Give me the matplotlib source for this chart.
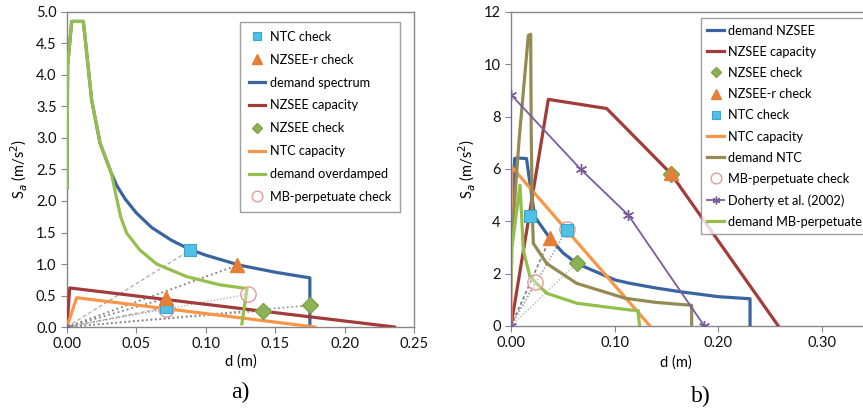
import matplotlib
matplotlib.use("Agg")
import matplotlib.pyplot as plt

plt.rcParams['font.family'] = ['Lato', 'DejaVu Sans']

# ---------------- panel a) ----------------
d_dem_a = [0, 0.0005, 0.0034, 0.0118, 0.0178, 0.0238, 0.032, 0.036, 0.042, 0.05, 0.061, 0.075,
           0.0886, 0.10, 0.1246, 0.15, 0.175, 0.175]
sa_dem_a = [2.2, 4.15, 4.85, 4.85, 3.6, 2.92, 2.44, 2.24, 2.03, 1.81, 1.58, 1.38,
            1.23, 1.14, 0.98, 0.87, 0.78, 0.05]
d_over_a = [0, 0.0005, 0.0034, 0.0118, 0.0178, 0.0238, 0.032, 0.036, 0.0387, 0.043, 0.0526,
            0.0646, 0.0862, 0.11, 0.12, 0.1297, 0.126]
sa_over_a = [2.2, 4.15, 4.85, 4.85, 3.6, 2.92, 2.44, 2.02, 1.75, 1.49, 1.22,
             1.0, 0.80, 0.67, 0.64, 0.61, 0.05]
d_nzcap_a = [0, 0.002, 0.236]
sa_nzcap_a = [0, 0.62, 0.0]
d_ntccap_a = [0, 0.007, 0.1787]
sa_ntccap_a = [0, 0.465, 0.0]
d_ntcchk_a = [0.0886, 0.0711]
sa_ntcchk_a = [1.22, 0.31]
d_nzrchk_a = [0.1227, 0.0711]
sa_nzrchk_a = [0.98, 0.455]
d_nzchk_a = [0.1415, 0.175]
sa_nzchk_a = [0.26, 0.345]
d_mbchk_a = [0.1306, 0.0711]
sa_mbchk_a = [0.52, 0.29]

# ---------------- panel b) ----------------
d_dem_b = [0, 0.0035, 0.006, 0.015, 0.0183, 0.023, 0.0376, 0.05, 0.0633, 0.1003, 0.1148,
           0.14, 0.163, 0.20, 0.2305, 0.2305]
sa_dem_b = [2.6, 6.4, 6.42, 6.4, 5.45, 4.17, 3.35, 2.8, 2.39, 1.76, 1.63,
            1.45, 1.31, 1.12, 1.04, 0]
d_ntc_b = [0, 0.008, 0.0167, 0.019, 0.0195, 0.0205, 0.0215, 0.0344, 0.0633, 0.11,
           0.14, 0.1742, 0.1742]
sa_ntc_b = [2.9, 7.2, 11.1, 11.15, 7.5, 4.5, 3.16, 2.39, 1.63, 1.06,
            0.9, 0.79, 0]
d_mb_b = [0, 0.001, 0.0087, 0.0103, 0.0119, 0.0183, 0.0344, 0.0633, 0.1148, 0.1228, 0.1228, 0.124]
sa_mb_b = [1.3, 3.0, 5.38, 4.17, 2.9, 1.88, 1.25, 0.87, 0.61, 0.59, 0.45, 0]
d_nzcap_b = [0, 0.036, 0.0923, 0.154, 0.2578]
sa_nzcap_b = [0, 8.66, 8.31, 5.83, 0]
d_ntccap_b = [0, 0.0007, 0.134]
sa_ntccap_b = [0, 6.08, 0]
d_doh_b = [0, 0, 0.0672, 0.1131, 0.1864]
sa_doh_b = [0, 8.84, 5.99, 4.24, 0]
d_nzchk_b = [0.0633, 0.154]
sa_nzchk_b = [2.39, 5.8]
d_nzrchk_b = [0.0376, 0.154]
sa_nzrchk_b = [3.35, 5.83]
d_ntcchk_b = [0.0183, 0.0537]
sa_ntcchk_b = [4.2, 3.66]
d_mbchk_b = [0.0231, 0.0537]
sa_mbchk_b = [1.69, 3.7]

BLUE = '#3a64a0'
RED = '#a33b3b'
GREEN = '#93bf4a'
ORANGE = '#f79646'
OLIVE = '#948a54'
PURPLE = '#7a5c9c'
CYAN = '#4fc1e6'
TRI = '#e67e35'
DIAM = '#8db255'
GRID = '#868686'

fig = plt.figure(figsize=(8.63, 4.13), dpi=100)
ax1 = fig.add_axes([0.0776, 0.2082, 0.4021, 0.7628])
ax2 = fig.add_axes([0.5921, 0.2107, 0.4206, 0.7603])


def style(ax):
    for s in ax.spines.values():
        s.set_color(GRID)
        s.set_linewidth(1.0)
    ax.tick_params(direction='out', length=4, color=GRID, labelsize=10.5,
                   labelcolor='#111111', top=False, right=False)
    ax.set_xlabel('d (m)', fontsize=10.5)
    ax.set_ylabel('S$_a$ (m/s$^2$)', fontsize=10.5)


def guides(ax, xs, ys, **kw):
    for x, y in zip(xs, ys):
        ax.plot([0, x], [0, y], zorder=2, **kw)


mk_sq = dict(marker='s', ms=8, mfc=CYAN, mec='#3aa6c8', mew=0.8, ls='none', zorder=6)
mk_tri = dict(marker='^', ms=10, mfc=TRI, mec=TRI, ls='none', zorder=6)
mk_dia = dict(marker='D', ms=8, mfc=DIAM, mec='#7fa347', ls='none', zorder=5)
mk_circ = dict(marker='o', ms=11, mfc=(1, 1, 1, 0.35), mec='#e39a9a', mew=1.0, ls='none', zorder=5)

leg_kw = dict(loc='upper left', bbox_transform=fig.transFigure, fontsize=9.2, frameon=True,
              fancybox=False, edgecolor=GRID, handlelength=1.3, handletextpad=0.35,
              borderaxespad=0, markerscale=0.7)

# ---- a)
guides(ax1, d_ntcchk_a, sa_ntcchk_a, color='#aaaaaa', lw=0.9, ls=(0, (3, 2)))
guides(ax1, d_nzrchk_a, sa_nzrchk_a, color='#7f7f7f', lw=1.3, ls=':')
guides(ax1, d_nzchk_a, sa_nzchk_a, color='#8c8c8c', lw=1.2, ls=':')
guides(ax1, d_mbchk_a, sa_mbchk_a, color='#a6a6a6', lw=0.9, ls=':')

ax1.plot(d_ntcchk_a, sa_ntcchk_a, label='NTC check', **mk_sq)
ax1.plot(d_nzrchk_a, sa_nzrchk_a, label='NZSEE-r check', **mk_tri)
ax1.plot(d_dem_a, sa_dem_a, color=BLUE, lw=2.3, label='demand spectrum', zorder=3)
ax1.plot(d_nzcap_a, sa_nzcap_a, color=RED, lw=2.3, label='NZSEE capacity', zorder=3)
ax1.plot(d_nzchk_a, sa_nzchk_a, label='NZSEE check', **mk_dia)
ax1.plot(d_ntccap_a, sa_ntccap_a, color=ORANGE, lw=2.3, label='NTC capacity', zorder=3)
ax1.plot(d_over_a, sa_over_a, color=GREEN, lw=2.3, label='demand overdamped', zorder=3)
ax1.plot(d_mbchk_a, sa_mbchk_a, label='MB-perpetuate check', **mk_circ)
ax1.plot([0], [0], marker=(6, 2, 0), ms=5, color=PURPLE, ls='none', zorder=6)

ax1.set_xlim(0, 0.25)
ax1.set_ylim(0, 5.0)
ax1.set_xticks([0, 0.05, 0.10, 0.15, 0.20, 0.25])
ax1.set_xticklabels(['0.00', '0.05', '0.10', '0.15', '0.20', '0.25'])
ax1.set_yticks([0.5 * i for i in range(11)])
ax1.set_yticklabels(['%.1f' % (0.5 * i) for i in range(11)])
style(ax1)
ax1.xaxis.labelpad = 2

leg1 = ax1.legend(bbox_to_anchor=(0.278, 0.947), labelspacing=0.85, borderpad=0.7, **leg_kw)
leg1.get_frame().set_linewidth(1.0)

# ---- b)
guides(ax2, d_nzrchk_b[:1], sa_nzrchk_b[:1], color='#7f7f7f', lw=1.2, ls=(0, (2, 1.5)))
guides(ax2, d_ntcchk_b, sa_ntcchk_b, color='#999999', lw=0.9, ls=':')
guides(ax2, d_nzchk_b[:1], sa_nzchk_b[:1], color='#a6a6a6', lw=0.9, ls=':')
guides(ax2, d_mbchk_b, sa_mbchk_b, color='#a6a6a6', lw=0.9, ls=':')

ax2.plot(d_dem_b, sa_dem_b, color=BLUE, lw=2.3, label='demand NZSEE', zorder=3)
ax2.plot(d_nzcap_b, sa_nzcap_b, color=RED, lw=2.3, label='NZSEE capacity', zorder=3)
ax2.plot(d_nzchk_b, sa_nzchk_b, label='NZSEE check', **mk_dia)
ax2.plot(d_nzrchk_b, sa_nzrchk_b, label='NZSEE-r check', **mk_tri)
ax2.plot(d_ntcchk_b, sa_ntcchk_b, label='NTC check', **mk_sq)
ax2.plot(d_ntccap_b, sa_ntccap_b, color=ORANGE, lw=2.3, label='NTC capacity', zorder=3)
ax2.plot(d_ntc_b, sa_ntc_b, color=OLIVE, lw=2.3, label='demand NTC', zorder=3)
ax2.plot(d_mbchk_b, sa_mbchk_b, label='MB-perpetuate check', **mk_circ)
ax2.plot(d_doh_b, sa_doh_b, color=PURPLE, lw=1.3, marker=(6, 2, 0), ms=8, mew=1.0,
         label='Doherty et al. (2002)', zorder=4)
ax2.plot(d_mb_b, sa_mb_b, color=GREEN, lw=2.3, label='demand MB-perpetuate', zorder=3)

ax2.set_xlim(0, 0.35)
ax2.set_ylim(0, 12)
ax2.set_xticks([0, 0.10, 0.20, 0.30])
ax2.set_xticklabels(['0.00', '0.10', '0.20', '0.30'])
ax2.set_yticks(range(0, 13, 2))
style(ax2)
ax2.xaxis.set_label_coords(0.455, -0.095)

leg2 = ax2.legend(bbox_to_anchor=(0.8123, 0.956), labelspacing=0.72, borderpad=0.5, **leg_kw)
leg2.get_frame().set_linewidth(1.0)

fig.text(0.278, 0.05, 'a)', fontsize=17, family='Liberation Serif', ha='center', va='center')
fig.text(0.812, 0.04, 'b)', fontsize=17, family='Liberation Serif', ha='center', va='center')

fig.savefig('out.png', dpi=100)
